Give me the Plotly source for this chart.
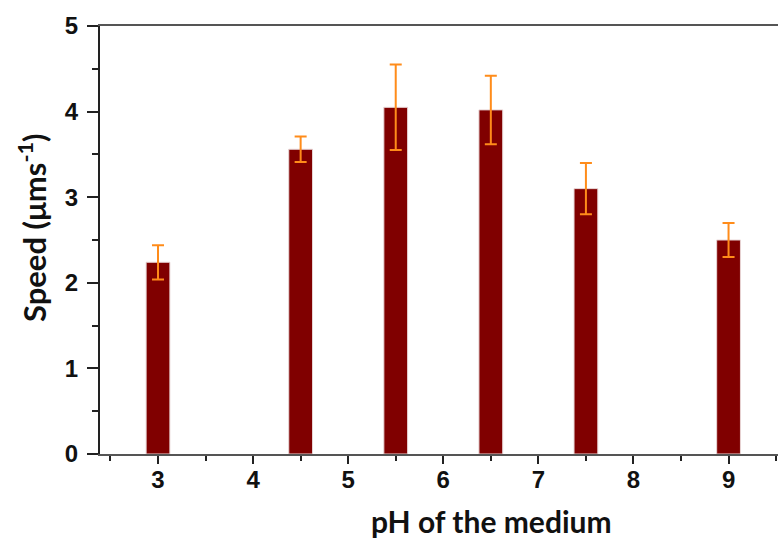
import plotly.graph_objects as go

# Swimming speed measured at each pH of the medium
ph_values = [3, 4.5, 5.5, 6.5, 7.5, 9]
speed = [2.24, 3.56, 4.05, 4.02, 3.10, 2.50]
speed_err = [0.20, 0.15, 0.50, 0.40, 0.30, 0.20]

x_tick_vals = [3, 4, 5, 6, 7, 8, 9]
y_tick_vals = [0, 1, 2, 3, 4, 5]

# plotting-area edges in pixels, used to place the axis titles
L, R, T, B = 100, 778, 26, 454
W, H = 778, 538

fig = go.Figure()
fig.add_trace(go.Bar(
    x=ph_values,
    y=speed,
    width=0.25,
    marker=dict(color="#800000", line=dict(color="#e8d6d6", width=1)),
    error_y=dict(type="data", array=speed_err, visible=True,
                 color="#ff8c1a", thickness=2, width=6),
))

tick_font = dict(family="Liberation Sans", size=24, color="#111", weight="bold")
title_font = dict(family="Lato", color="#111", weight="bold")

fig.update_layout(
    width=W, height=H,
    margin=dict(l=L, r=W - R, t=T, b=H - B),
    plot_bgcolor="white", paper_bgcolor="white",
    showlegend=False,
    xaxis=dict(
        range=[2.39, 9.52],
        tickmode="array", tickvals=x_tick_vals,
        ticks="outside", ticklen=8, tickwidth=2, tickcolor="#222",
        ticklabelstandoff=-5,
        minor=dict(dtick=0.5, tick0=2.5, ticks="outside", ticklen=5,
                   tickwidth=2, tickcolor="#222"),
        showline=True, linecolor="#555", linewidth=2, mirror=True,
        showgrid=False, zeroline=False,
        tickfont=tick_font,
    ),
    yaxis=dict(
        range=[0, 5],
        tickmode="array", tickvals=y_tick_vals,
        ticks="outside", ticklen=11, tickwidth=2, tickcolor="#222",
        ticklabelstandoff=4,
        minor=dict(dtick=0.5, ticks="outside", ticklen=6,
                   tickwidth=2, tickcolor="#222"),
        showline=True, linecolor="#222", linewidth=2,
        showgrid=False, zeroline=False,
        tickfont=tick_font,
    ),
    annotations=[
        dict(text="pH of the medium",
             x=(491 - L) / (R - L), y=-(521 - B) / (B - T),
             xref="paper", yref="paper", xanchor="center", yanchor="middle",
             showarrow=False, font=dict(size=30, **title_font)),
        dict(text="Speed (μms<sup>-1</sup>)", textangle=-90,
             x=-(L - 32) / (R - L), y=(B - 228) / (B - T),
             xref="paper", yref="paper", xanchor="center", yanchor="middle",
             showarrow=False, font=dict(size=31, **title_font)),
    ],
)

fig.write_html("out.html")
